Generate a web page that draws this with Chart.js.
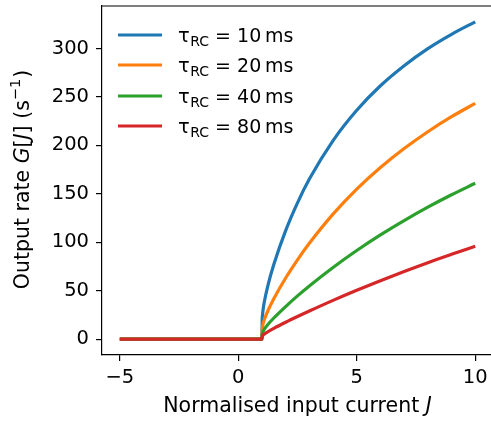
<!DOCTYPE html>
<html>
<head>
<meta charset="utf-8">
<script src="https://cdn.jsdelivr.net/npm/chart.js@4"></script>
<style>
  html, body { margin: 0; padding: 0; background: #fff; overflow: hidden; }
  canvas { display: block; }
</style>
</head>
<body>
<canvas id="rateChart" width="493" height="422"></canvas>
<script>
// normalised input current J (x values)
const currentJ = [-5, 1, 1.01, 1.02, 1.05, 1.1, 1.25, 1.5, 2, 2.5, 3, 4, 5, 6, 7, 8, 9, 10];

// output rate G[J] in 1/s, one list per membrane time constant
const rate10ms = [0, 0, 20.8, 24.2, 30.8, 38.5, 55.3, 77.0, 112.0, 140.7, 165.2, 205.0, 236.3, 261.6, 282.3, 299.9, 314.7, 327.5];
const rate20ms = [0, 0, 10.6, 12.4, 15.9, 20.0, 29.3, 41.7, 63.1, 81.9, 98.9, 129.0, 154.8, 177.1, 196.7, 214.1, 229.6, 243.4];
const rate40ms = [0, 0, 5.4, 6.2, 8.1, 10.2, 15.1, 21.8, 33.6, 44.6, 54.9, 74.0, 91.5, 107.6, 122.4, 136.2, 149.0, 160.9];
const rate80ms = [0, 0, 2.7, 3.2, 4.1, 5.2, 7.6, 11.1, 17.4, 23.3, 29.0, 40.0, 50.4, 60.3, 69.8, 78.9, 87.5, 95.9];

const legendLabels = ['10', '20', '40', '80'];
const xTicks = [-5, 0, 5, 10];
const yTicks = [0, 50, 100, 150, 200, 250, 300];

const colors = ['#1f77b4', '#ff7f0e', '#2ca02c', '#d62728'];
const FONT = '"DejaVu Sans", sans-serif';
const TITLE_SIZE = 20.5;

function toPoints(values) {
    return currentJ.map((j, i) => ({ x: j, y: values[i] }));
}

function fmtTick(v) {
    return v < 0 ? '\u2212' + Math.abs(v) : String(v);
}

function noPadding(scale) {
    scale.paddingTop = 0;
    scale.paddingBottom = 0;
    scale.paddingLeft = 0;
    scale.paddingRight = 0;
}

// top spine + custom legend + axis titles with italic symbols
const decorations = {
    id: 'decorations',
    afterDraw(chart) {
        const ctx = chart.ctx;
        const area = chart.chartArea;
        ctx.save();

        ctx.strokeStyle = '#000';
        ctx.lineWidth = 1.2;
        ctx.beginPath();
        ctx.moveTo(area.left, area.top);
        ctx.lineTo(area.right, area.top);
        ctx.stroke();

        // legend
        const rows = [35, 65, 96, 126];
        rows.forEach((y, i) => {
            ctx.strokeStyle = colors[i];
            ctx.lineWidth = 3.2;
            ctx.beginPath();
            ctx.moveTo(118, y);
            ctx.lineTo(162, y);
            ctx.stroke();

            ctx.fillStyle = '#000';
            ctx.textBaseline = 'alphabetic';
            ctx.textAlign = 'left';
            let x = 178;
            const base = y + 7;
            ctx.font = '19.5px ' + FONT;
            ctx.fillText('\u03c4', x, base);
            x += ctx.measureText('\u03c4').width + 0.5;
            ctx.font = '14px ' + FONT;
            ctx.fillText('RC', x, base + 4);
            x += ctx.measureText('RC').width;
            ctx.font = '19px ' + FONT;
            ctx.fillText(' = ' + legendLabels[i] + '\u2009ms', x, base);
        });

        // x title
        drawPieces(ctx, [
            ['Normalised input current ', 'normal'],
            ['J', 'italic']
        ], (area.left + area.right) / 2, 412);

        // y title (rotated)
        ctx.translate(29, 180);
        ctx.rotate(-Math.PI / 2);
        drawPieces(ctx, [
            ['Output rate ', 'normal'],
            ['G', 'italic'],
            ['[', 'normal'],
            ['J', 'italic'],
            ['] (s', 'normal'],
            ['\u22121', 'sup'],
            [')', 'normal']
        ], 0, 0);

        ctx.restore();
    }
};

function pieceFont(style) {
    if (style === 'italic') return 'italic ' + TITLE_SIZE + 'px ' + FONT;
    if (style === 'sup') return '14.5px ' + FONT;
    return TITLE_SIZE + 'px ' + FONT;
}

function drawPieces(ctx, pieces, cx, baseline) {
    let total = 0;
    pieces.forEach(p => {
        ctx.font = pieceFont(p[1]);
        total += ctx.measureText(p[0]).width;
    });
    let x = cx - total / 2;
    ctx.fillStyle = '#000';
    ctx.textBaseline = 'alphabetic';
    ctx.textAlign = 'left';
    pieces.forEach(p => {
        ctx.font = pieceFont(p[1]);
        const dy = p[1] === 'sup' ? -9 : 0;
        ctx.fillText(p[0], x, baseline + dy);
        x += ctx.measureText(p[0]).width + (p[1] === 'sup' ? 1 : 0);
    });
}

function createRateChart() {
    const ctx = document.getElementById('rateChart').getContext('2d');
    const series = [rate10ms, rate20ms, rate40ms, rate80ms];
    new Chart(ctx, {
        type: 'line',
        data: {
            datasets: series.map((values, i) => ({
                label: 'tau_RC = ' + legendLabels[i] + ' ms',
                data: toPoints(values),
                borderColor: colors[i],
                backgroundColor: colors[i],
                borderWidth: 3.2,
                pointRadius: 0,
                cubicInterpolationMode: 'monotone',
                order: 3 - i
            }))
        },
        options: {
            responsive: false,
            animation: false,
            layout: { padding: { top: 6, left: 0, right: 0, bottom: 0 } },
            scales: {
                x: {
                    type: 'linear',
                    min: -5.75,
                    max: 10.75,
                    afterBuildTicks: scale => { scale.ticks = xTicks.map(v => ({ value: v })); },
                    afterFit: scale => { scale.height = 67; noPadding(scale); },
                    grid: { drawOnChartArea: false, drawTicks: true, tickLength: 6, color: '#000', lineWidth: 1.2 },
                    border: { color: '#000', width: 1.2 },
                    ticks: {
                        color: '#000',
                        padding: 5,
                        maxRotation: 0,
                        font: { family: FONT, size: 19.5 },
                        callback: v => fmtTick(v)
                    }
                },
                y: {
                    min: -16.4,
                    max: 343.9,
                    afterBuildTicks: scale => { scale.ticks = yTicks.map(v => ({ value: v })); },
                    afterFit: scale => { scale.width = 102; noPadding(scale); },
                    grid: { drawOnChartArea: false, drawTicks: true, tickLength: 6, color: '#000', lineWidth: 1.2 },
                    border: { color: '#000', width: 1.2 },
                    ticks: {
                        color: '#000',
                        padding: 7,
                        font: { family: FONT, size: 19.5 },
                        callback: v => fmtTick(v)
                    }
                }
            },
            plugins: {
                legend: { display: false },
                tooltip: { enabled: false }
            }
        },
        plugins: [decorations]
    });
}

document.addEventListener('DOMContentLoaded', createRateChart);
</script>
</body>
</html>
